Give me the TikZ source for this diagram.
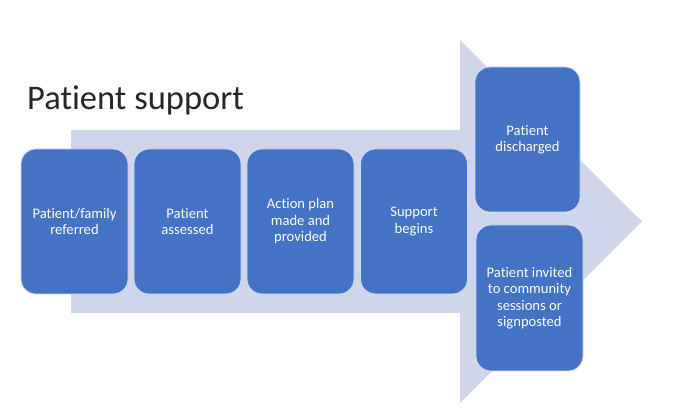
\documentclass[tikz,border=0pt]{standalone}
\usepackage{fontspec}
\setmainfont[Ligatures=NoCommon]{Carlito}
\definecolor{boxblue}{HTML}{4472C4}
\definecolor{arrowfill}{HTML}{CFD5EA}
\begin{document}
\begin{tikzpicture}[x=1pt,y=-1pt,
  stepbox/.style={fill=boxblue, draw=white!75!boxblue, line width=0.8pt, rounded corners=15pt,
    text=white, align=center, font=\fontsize{14.6}{16.4}\selectfont, inner sep=0pt}]
\useasboundingbox (0,0) rectangle (680,419);
% big arrow
\fill[arrowfill] (71,130) -- (460,130) -- (460,40) -- (642,221.5) -- (460,403) -- (460,313) -- (71,313) -- cycle;
% title
\node[anchor=base west, font=\fontsize{34.5}{40}\selectfont, text=black!85, inner sep=0pt] (title) at (27,110) {Patient support};
% boxes
\node[stepbox, minimum width=107pt, minimum height=145pt] (b1) at (74.5,221.5) {Patient/family\\referred};
\node[stepbox, minimum width=107pt, minimum height=145pt] (b2) at (187.5,221.5) {Patient\\assessed};
\node[stepbox, minimum width=107pt, minimum height=145pt] (b3) at (300.5,221.5) {Action plan\\made and\\provided};
\node[stepbox, minimum width=107pt, minimum height=145pt] (b4) at (414,221.5) {Support\\begins};
\node[stepbox, minimum width=105pt, minimum height=145pt] (b5) at (527.5,139.5) {Patient\\discharged};
\node[stepbox, minimum width=107pt, minimum height=146pt] (b6) at (529.5,298) {Patient invited\\to community\\sessions or\\signposted};
\end{tikzpicture}
\end{document}
